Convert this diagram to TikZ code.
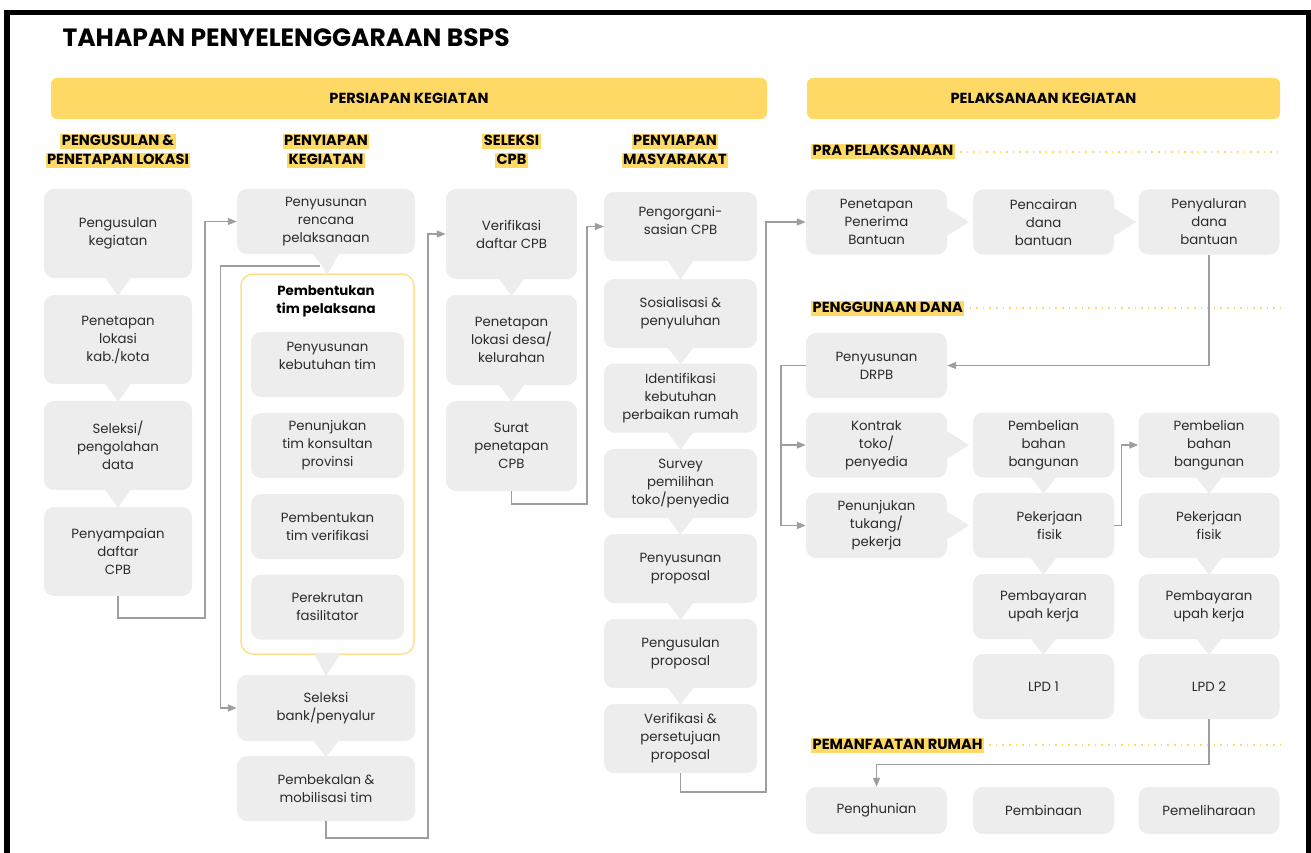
\documentclass[tikz,border=0pt]{standalone}
\usepackage{fontspec}
\setmainfont{Poppins}
\usetikzlibrary{arrows.meta}
\usetikzlibrary{calc}

\definecolor{boxgrey}{HTML}{EDEDED}
\definecolor{txtgrey}{HTML}{2B2B2B}
\definecolor{linegrey}{HTML}{9E9E9E}
\definecolor{hlyellow}{HTML}{FFD966}
\definecolor{frameyellow}{HTML}{FFE08A}

\newcommand{\boxfont}{\fontsize{13.3}{18}\selectfont}
\newcommand{\headfont}{\fontsize{14.6}{16}\selectfont\bfseries}
\newcommand{\titlefont}{\fontsize{25}{29}\selectfont\bfseries}

% little speech-bubble tips between boxes
\newcommand{\tipdown}[2]{\fill[boxgrey] ($(#1.south)+(-14,-2)$) -- ($(#2.north)+(0,1)$) -- ($(#1.south)+(14,-2)$) -- cycle;}
\newcommand{\tipright}[1]{\fill[boxgrey] ($(#1.east)+(-2,-15)$) -- ($(#1.east)+(22,0)$) -- ($(#1.east)+(-2,15)$) -- cycle;}

\tikzset{
  box/.style={fill=boxgrey, rounded corners=10pt, align=center, text=txtgrey, font=\boxfont, inner sep=0pt},
  colone/.style={box, minimum width=148pt, minimum height=89pt},
  coltwo/.style={box, minimum width=178pt, minimum height=65pt},
  inner/.style={box, minimum width=153pt, minimum height=65pt},
  colthree/.style={box, minimum width=131pt, minimum height=90pt},
  colfour/.style={box, minimum width=153pt, minimum height=69pt},
  rbox/.style={box, minimum width=141pt, minimum height=65pt},
  hl/.style={fill=hlyellow, font=\headfont, inner xsep=1.5pt, inner ysep=1pt, text height=10.5pt, text depth=2.5pt},
  banner/.style={fill=hlyellow, rounded corners=6pt, font=\headfont, minimum height=41pt},
  link/.style={draw=linegrey, line width=1.4pt, -{Triangle[length=9pt,width=7pt]}},
  dotline/.style={draw=hlyellow, line width=1.6pt, dash pattern=on 1.6pt off 5pt},
}

\begin{document}
\begin{tikzpicture}[x=1pt, y=-1pt]
    \useasboundingbox (0,0) rectangle (1311,853);

    % frame and title
    \draw [line width=5.5pt] (7,853) -- (7,12.5) -- (1308.5,12.5) -- (1308.5,853);
    \node [anchor=west, font=\titlefont] (title) at (59,38) {TAHAPAN PENYELENGGARAAN BSPS};

    \node [banner, minimum width=716pt] (persiapan) at (409,98.5) {PERSIAPAN KEGIATAN};
    \node [banner, minimum width=473pt] (pelaksanaan) at (1043.5,98.5) {PELAKSANAAN KEGIATAN};

    % column headers
    \node [hl] (h1a) at (118,142) {PENGUSULAN \&};
    \node [hl] (h1b) at (118,160.5) {PENETAPAN LOKASI};
    \node [hl] (h2a) at (326,142) {PENYIAPAN};
    \node [hl] (h2b) at (326,160.5) {KEGIATAN};
    \node [hl] (h3a) at (511.5,142) {SELEKSI};
    \node [hl] (h3b) at (511.5,160.5) {CPB};
    \node [hl] (h4a) at (675,142) {PENYIAPAN};
    \node [hl] (h4b) at (675,160.5) {MASYARAKAT};

    % pengusulan & penetapan lokasi
    \node [colone] (usul) at (118,233.5) {Pengusulan\\kegiatan};
    \node [colone] (kab) at (118,339.5) {Penetapan\\lokasi\\kab./kota};
    \node [colone] (olah) at (118,445.5) {Seleksi/\\pengolahan\\data};
    \node [colone] (cpb) at (118,551.5) {Penyampaian\\daftar\\CPB};
    \tipdown{usul}{kab}
    \tipdown{kab}{olah}
    \tipdown{olah}{cpb}

    % penyiapan kegiatan
    \node [coltwo] (rencana) at (326,221.5) {Penyusunan\\rencana\\pelaksanaan};
    \node [draw=frameyellow, line width=1.5pt, rounded corners=12pt, minimum width=173pt, minimum height=380pt] (tim) at (327.5,464) {};
    \node [font=\boxfont\bfseries, align=center] (timtitle) at (326,301) {Pembentukan\\tim pelaksana};
    \node [inner] (kebutuhan) at (327.5,364.5) {Penyusunan\\kebutuhan tim\\\mbox{}};
    \node [inner] (konsultan) at (327.5,445.5) {Penunjukan\\tim konsultan\\provinsi};
    \node [inner] (verteam) at (327.5,526.5) {Pembentukan\\tim verifikasi};
    \node [inner] (fasil) at (327.5,607) {Perekrutan\\fasilitator};
    \node [coltwo, minimum height=66pt] (bank) at (326,708) {Seleksi\\bank/penyalur};
    \node [coltwo] (bekal) at (326,788.5) {Pembekalan \&\\mobilisasi tim};
    \tipdown{rencana}{tim}
    \tipdown{tim}{bank}
    \tipdown{bank}{bekal}

    % seleksi cpb
    \node [colthree] (verif) at (511.5,234) {Verifikasi\\daftar CPB};
    \node [colthree] (desa) at (511.5,340) {Penetapan\\lokasi desa/\\kelurahan};
    \node [colthree] (surat) at (511.5,446) {Surat\\penetapan\\CPB};
    \tipdown{verif}{desa}
    \tipdown{desa}{surat}

    % penyiapan masyarakat
    \node [colfour] (org) at (680.5,226.5) {Pengorgani-\\sasian CPB\\[-6pt]\mbox{}};
    \node [colfour] (sosial) at (680.5,313.5) {Sosialisasi \&\\penyuluhan};
    \node [colfour] (ident) at (680.5,398) {Identifikasi\\kebutuhan\\perbaikan rumah};
    \node [colfour] (survey) at (680.5,483.5) {Survey\\pemilihan\\toko/penyedia};
    \node [colfour] (susun) at (680.5,568.5) {Penyusunan\\proposal};
    \node [colfour] (usulprop) at (680.5,653.5) {Pengusulan\\proposal};
    \node [colfour] (setuju) at (680.5,738.5) {Verifikasi \&\\persetujuan\\proposal};
    \tipdown{org}{sosial}
    \tipdown{sosial}{ident}
    \tipdown{ident}{survey}
    \tipdown{survey}{susun}
    \tipdown{susun}{usulprop}
    \tipdown{usulprop}{setuju}

    % pelaksanaan: section labels
    \node [hl, anchor=west] (pra) at (811,152) {PRA PELAKSANAAN};
    \node [hl, anchor=west] (dana) at (811,308) {PENGGUNAAN DANA};
    \node [hl, anchor=west] (manfaat) at (811,745) {PEMANFAATAN RUMAH};
    \draw [dotline] ($(pra.east)+(5,0)$) -- (1280,152);
    \draw [dotline] ($(dana.east)+(5,0)$) -- (1280,308);
    \draw [dotline] ($(manfaat.east)+(5,0)$) -- (1280,745);

    % pra pelaksanaan
    \node [rbox] (penerima) at (876.5,222) {Penetapan\\Penerima\\Bantuan};
    \node [rbox] (cair) at (1043.5,222) {Pencairan\\dana\\bantuan};
    \node [rbox] (salur) at (1209,222) {Penyaluran\\dana\\bantuan};
    \tipright{penerima}
    \tipright{cair}

    % penggunaan dana
    \node [rbox] (drpb) at (876.5,365.5) {Penyusunan\\DRPB};
    \node [rbox] (kontrak) at (876.5,445) {Kontrak\\toko/\\penyedia};
    \node [rbox] (tukang) at (876.5,525.5) {Penunjukan\\tukang/\\pekerja};
    \node [rbox] (belib) at (1043.5,445) {Pembelian\\bahan\\bangunan};
    \node [rbox] (fisikb) at (1043.5,525.5) {\hspace*{12pt}Pekerjaan\\\hspace*{12pt}fisik};
    \node [rbox] (bayarb) at (1043.5,606.5) {Pembayaran\\upah kerja};
    \node [rbox] (lpdb) at (1043.5,686.5) {LPD 1};
    \node [rbox] (belic) at (1209,445) {Pembelian\\bahan\\bangunan};
    \node [rbox] (fisikc) at (1209,525.5) {Pekerjaan\\fisik};
    \node [rbox] (bayarc) at (1209,606.5) {Pembayaran\\upah kerja};
    \node [rbox] (lpdc) at (1209,686.5) {LPD 2};
    \tipright{kontrak}
    \tipright{tukang}
    \tipdown{belib}{fisikb}
    \tipdown{fisikb}{bayarb}
    \tipdown{bayarb}{lpdb}
    \tipdown{belic}{fisikc}
    \tipdown{fisikc}{bayarc}
    \tipdown{bayarc}{lpdc}

    % pemanfaatan rumah
    \node [rbox, minimum height=47pt] (huni) at (876.5,810.5) {Penghunian};
    \node [rbox, minimum height=47pt] (bina) at (1043.5,810.5) {Pembinaan};
    \node [rbox, minimum height=47pt] (pelihara) at (1209,810.5) {Pemeliharaan};

    % connectors
    \coordinate (rencanaout) at (320,266);
    \draw [link] (cpb.south) |- (205,618) |- (rencana.west);
    \draw [link] (rencanaout) -| (220.5,708) -- (bank.west);
    \draw [link] (bekal.south) |- (428,838) |- (verif.west);
    \draw [link] (surat.south) |- (587,504) |- (org.west);
    \draw [link] (setuju.south) |- (766,792) |- (penerima.west);
    \draw [link] (salur.south) |- (drpb.east);
    \draw [link] (drpb.west) -| ([xshift=-25pt]tukang.west) -- (tukang.west);
    \draw [link] ([xshift=-25pt]kontrak.west) -- (kontrak.west);
    \draw [link] (fisikb.east) -| ([xshift=-17pt]belic.west) -- (belic.west);
    \draw [link] (lpdc.south) -- ++(0,45) -| (huni.north);
\end{tikzpicture}
\end{document}
